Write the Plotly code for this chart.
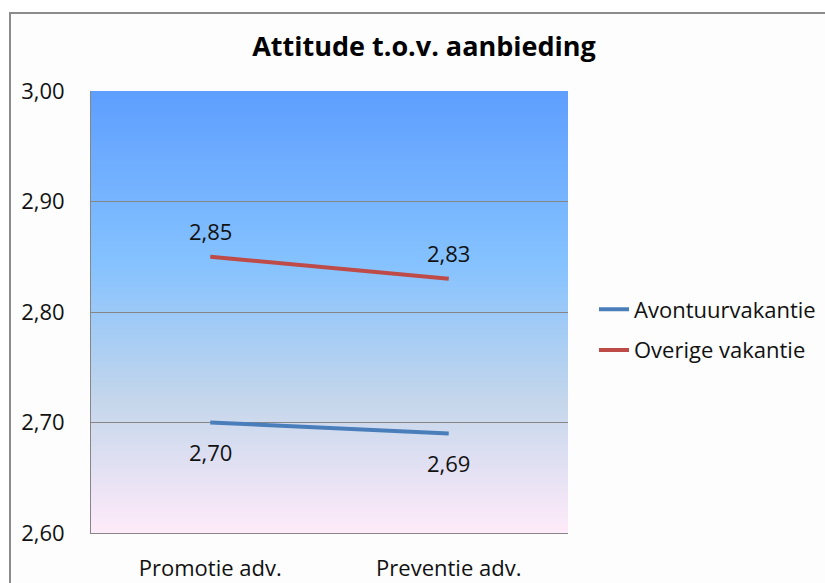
import plotly.graph_objects as go

# ---- data ----
categories = ["Promotie adv.", "Preventie adv."]
avontuur = [2.70, 2.69]
overige = [2.85, 2.83]
series_names = ["Avontuurvakantie", "Overige vakantie"]
y_ticks = [2.60, 2.70, 2.80, 2.90, 3.00]
y_tick_labels = ["2,60", "2,70", "2,80", "2,90", "3,00"]
title_text = "Attitude t.o.v. aanbieding"

FONT = "Open Sans"
BLUE = "#4A7EBB"
RED = "#BE4B48"
GRID = "#868686"
TXT = "#111111"
FS = 22

W, H = 825, 583
ML, MR, MT, MB = 91, 257, 91, 50
PW = W - ML - MR
PH = H - MT - MB


def fmt(v):
    return f"{v:.2f}".replace(".", ",")


fig = go.Figure()
fig.add_trace(go.Scatter(x=categories, y=avontuur, name=series_names[0], mode="lines",
                         line=dict(color=BLUE, width=4), legendgroup="a"))
fig.add_trace(go.Scatter(x=categories, y=overige, name=series_names[1], mode="lines",
                         line=dict(color=RED, width=4), legendgroup="b"))

annotations = []
for c, v in zip(categories, overige):
    annotations.append(dict(x=c, y=v, xref="x", yref="y", text=fmt(v), showarrow=False,
                            yshift=26, font=dict(family=FONT, size=FS, color=TXT)))
for c, v in zip(categories, avontuur):
    annotations.append(dict(x=c, y=v, xref="x", yref="y", text=fmt(v), showarrow=False,
                            yshift=-29, font=dict(family=FONT, size=FS, color=TXT)))

# gradient background (Office "Daybreak")
stops = [(0.0, (0x5E, 0x9E, 0xFF)), (0.39, (0x85, 0xC2, 0xFF)),
         (0.70, (0xC4, 0xD6, 0xEB)), (1.0, (0xFF, 0xEB, 0xFA))]


def grad(t):
    for (t0, c0), (t1, c1) in zip(stops[:-1], stops[1:]):
        if t0 <= t <= t1:
            f = (t - t0) / (t1 - t0)
            return "rgb(%d,%d,%d)" % tuple(round(a + (b - a) * f) for a, b in zip(c0, c1))
    return "rgb(%d,%d,%d)" % stops[-1][1]


shapes = []
# outer chart border
shapes.append(dict(type="rect", xref="paper", yref="paper", layer="below",
                   x0=(10 - ML) / PW, x1=(W + 20 - ML) / PW,
                   y0=(PH - (H + 20 - MT)) / PH, y1=(PH - (13 - MT)) / PH,
                   line=dict(color="#8C8C8C", width=2), fillcolor="#FDFDFD"))
N = 221
for i in range(N):
    t = (i + 0.5) / N
    shapes.append(dict(type="rect", xref="x domain", yref="y domain", layer="below",
                       x0=0, x1=1, y0=1 - i / N, y1=1 - (i + 1) / N - 0.002,
                       line=dict(width=0), fillcolor=grad(t)))

fig.update_layout(
    width=W, height=H,
    margin=dict(l=ML, r=MR, t=MT, b=MB, autoexpand=False),
    paper_bgcolor="white",
    plot_bgcolor="rgba(0,0,0,0)",
    font=dict(family=FONT, size=FS, color=TXT),
    title=dict(text="<b>" + title_text + "</b>", x=(424 - ML) / PW, xref="paper", xanchor="center",
               y=1 - 47 / H, yanchor="middle", font=dict(family=FONT, size=27, color="black")),
    xaxis=dict(type="category", range=[-0.5, 1.5], showgrid=False, showline=True,
               linecolor=GRID, linewidth=1, ticks="", tickfont=dict(size=FS),
               ticklabelstandoff=16, zeroline=False, automargin=False),
    yaxis=dict(range=[2.6, 3.0], tickvals=y_ticks, ticktext=y_tick_labels, showgrid=True,
               gridcolor=GRID, gridwidth=1, showline=True, linecolor=GRID, linewidth=1,
               ticks="", tickfont=dict(size=FS), ticklabelstandoff=21, zeroline=False,
               automargin=False),
    legend=dict(x=(594 - ML) / PW, y=(PH - (330 - MT)) / PH, xanchor="left", yanchor="middle",
                bgcolor="rgba(0,0,0,0)", font=dict(size=FS), tracegroupgap=9),
    shapes=shapes,
    annotations=annotations,
    showlegend=True,
)

fig.write_html("out.html")
